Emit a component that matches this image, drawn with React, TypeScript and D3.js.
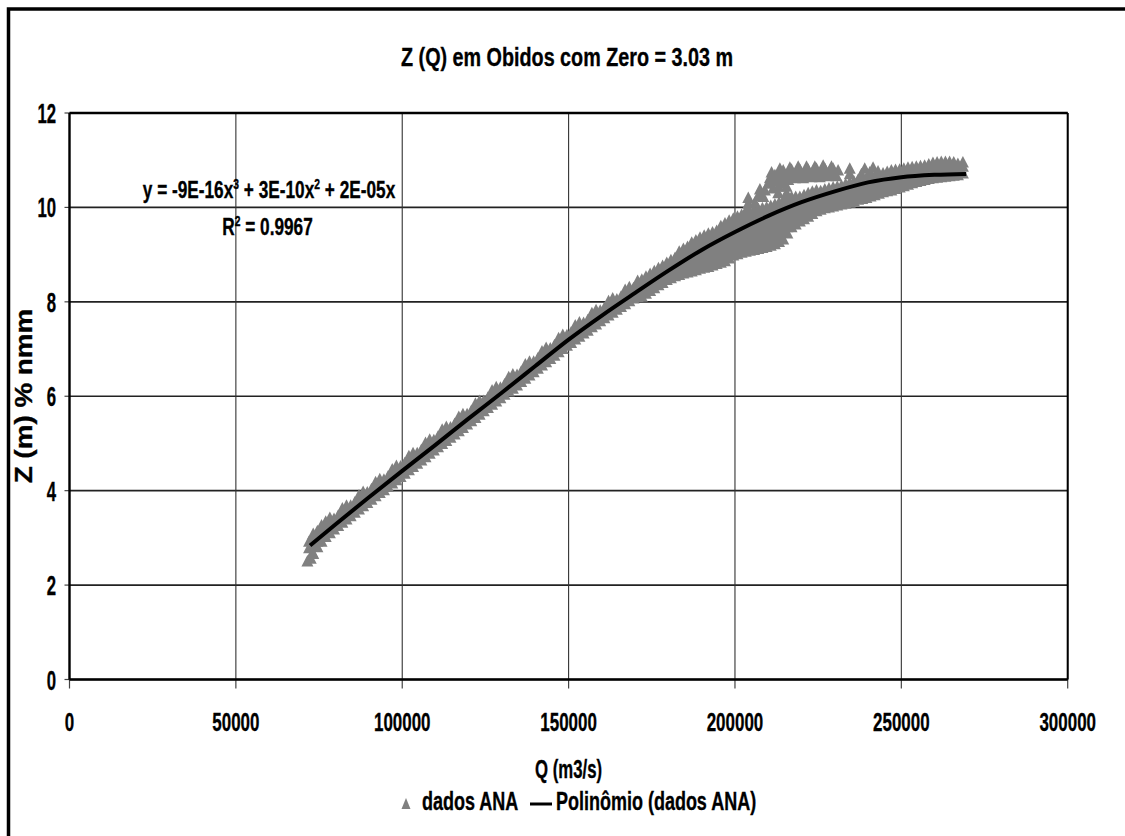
import React from "react";
import * as d3 from "d3";

const W = 1125;
const H = 836;

const chartTitle = "Z (Q) em Obidos com Zero = 3.03 m";
const xTitle = "Q (m3/s)";
const yTitle = "Z (m) % nmm";
const xTicks = [0, 50000, 100000, 150000, 200000, 250000, 300000];
const yTicks = [0, 2, 4, 6, 8, 10, 12];
const seriesName = "dados ANA";
const trendName = "Polinômio (dados ANA)";
const rSquared = "0.9967";

// trend line
const trendQ = [72300, 80000, 90000, 100000, 110000, 120000, 130000, 140000, 150000, 160000, 170000, 180000, 190000, 200000, 210000, 220000, 230000, 240000, 250000, 260000, 269500];
const trendZ = [2.84, 3.29, 3.86, 4.42, 4.97, 5.53, 6.08, 6.64, 7.2, 7.71, 8.19, 8.66, 9.1, 9.48, 9.82, 10.11, 10.34, 10.53, 10.64, 10.69, 10.71];

const dadosANA: [number, number][] = [
  [71500, 2.5], [72500, 2.56], [73000, 2.68], [72000, 2.78], [72000, 2.92],
  [73250, 2.66], [73250, 2.84], [73250, 2.98], [73250, 3.08],
  [74500, 2.8], [74500, 2.92], [74500, 3.04], [74500, 3.14],
  [75750, 2.92], [75750, 3.06], [75750, 3.18], [75750, 3.26],
  [77000, 3.02], [77000, 3.16], [77000, 3.27], [77000, 3.34],
  [78250, 3.1], [78250, 3.22], [78250, 3.34], [78250, 3.42],
  [79500, 3.18], [79500, 3.3], [79500, 3.4],
  [80750, 3.25], [80750, 3.37], [80750, 3.47],
  [82000, 3.32], [82000, 3.44], [82000, 3.54], [82000, 3.62],
  [83250, 3.39], [83250, 3.51], [83250, 3.61], [83250, 3.68],
  [84500, 3.46], [84500, 3.58], [84500, 3.68],
  [85750, 3.53], [85750, 3.65], [85750, 3.75],
  [87000, 3.6], [87000, 3.72], [87000, 3.82], [87000, 3.9],
  [88250, 3.67], [88250, 3.79], [88250, 3.89], [88250, 3.97],
  [89500, 3.74], [89500, 3.86], [89500, 3.96],
  [90750, 3.81], [90750, 3.93], [90750, 4.03],
  [92000, 3.88], [92000, 4.0], [92000, 4.1], [92000, 4.18],
  [93250, 3.95], [93250, 4.07], [93250, 4.17], [93250, 4.24],
  [94500, 4.01], [94500, 4.13], [94500, 4.23],
  [95750, 4.08], [95750, 4.2], [95750, 4.3],
  [97000, 4.15], [97000, 4.27], [97000, 4.37], [97000, 4.45],
  [98250, 4.22], [98250, 4.34], [98250, 4.44], [98250, 4.52],
  [99500, 4.29], [99500, 4.41], [99500, 4.51],
  [100750, 4.36], [100750, 4.48], [100750, 4.58],
  [102000, 4.43], [102000, 4.55], [102000, 4.65], [102000, 4.73],
  [103250, 4.5], [103250, 4.62], [103250, 4.72], [103250, 4.79],
  [104500, 4.57], [104500, 4.69], [104500, 4.79],
  [105750, 4.64], [105750, 4.76], [105750, 4.86],
  [107000, 4.71], [107000, 4.83], [107000, 4.93], [107000, 5.01],
  [108250, 4.78], [108250, 4.9], [108250, 5.0], [108250, 5.08],
  [109500, 4.85], [109500, 4.97], [109500, 5.07],
  [110750, 4.92], [110750, 5.04], [110750, 5.14],
  [112000, 4.99], [112000, 5.11], [112000, 5.21], [112000, 5.29],
  [113250, 5.05], [113250, 5.17], [113250, 5.27], [113250, 5.35],
  [114500, 5.12], [114500, 5.24], [114500, 5.34],
  [115750, 5.19], [115750, 5.31], [115750, 5.41],
  [117000, 5.26], [117000, 5.38], [117000, 5.48], [117000, 5.56],
  [118250, 5.33], [118250, 5.45], [118250, 5.55], [118250, 5.62],
  [119500, 5.4], [119500, 5.52], [119500, 5.62],
  [120750, 5.47], [120750, 5.59], [120750, 5.69],
  [122000, 5.54], [122000, 5.66], [122000, 5.76], [122000, 5.84],
  [123250, 5.61], [123250, 5.73], [123250, 5.83], [123250, 5.9],
  [124500, 5.68], [124500, 5.8], [124500, 5.9],
  [125750, 5.75], [125750, 5.87], [125750, 5.97],
  [127000, 5.82], [127000, 5.94], [127000, 6.04], [127000, 6.12],
  [128250, 5.89], [128250, 6.01], [128250, 6.11], [128250, 6.19],
  [129500, 5.96], [129500, 6.08], [129500, 6.18],
  [130750, 6.03], [130750, 6.15], [130750, 6.25],
  [132000, 6.1], [132000, 6.22], [132000, 6.32], [132000, 6.4],
  [133250, 6.16], [133250, 6.28], [133250, 6.38], [133250, 6.46],
  [134500, 6.23], [134500, 6.35], [134500, 6.45],
  [135750, 6.3], [135750, 6.42], [135750, 6.52],
  [137000, 6.37], [137000, 6.49], [137000, 6.59], [137000, 6.67],
  [138250, 6.44], [138250, 6.56], [138250, 6.66], [138250, 6.73],
  [139500, 6.51], [139500, 6.63], [139500, 6.73],
  [140750, 6.58], [140750, 6.7], [140750, 6.8],
  [142000, 6.65], [142000, 6.77], [142000, 6.87], [142000, 6.95],
  [143250, 6.72], [143250, 6.84], [143250, 6.94], [143250, 7.02],
  [144500, 6.79], [144500, 6.91], [144500, 7.01],
  [145750, 6.86], [145750, 6.98], [145750, 7.08],
  [147000, 6.93], [147000, 7.05], [147000, 7.15], [147000, 7.23],
  [148250, 7.0], [148250, 7.12], [148250, 7.22], [148250, 7.3],
  [149500, 7.07], [149500, 7.19], [149500, 7.29],
  [150750, 7.13], [150750, 7.25], [150750, 7.35],
  [152000, 7.2], [152000, 7.32], [152000, 7.42], [152000, 7.5],
  [153250, 7.26], [153250, 7.38], [153250, 7.48], [153250, 7.56],
  [154500, 7.33], [154500, 7.45], [154500, 7.55],
  [155750, 7.39], [155750, 7.51], [155750, 7.61],
  [157000, 7.46], [157000, 7.58], [157000, 7.68], [157000, 7.76],
  [158250, 7.52], [158250, 7.64], [158250, 7.74], [158250, 7.82],
  [159500, 7.59], [159500, 7.71], [159500, 7.81],
  [160750, 7.65], [160750, 7.77], [160750, 7.87],
  [162000, 7.71], [162000, 7.83], [162000, 7.93], [162000, 8.01],
  [163250, 7.77], [163250, 7.89], [163250, 7.99], [163250, 8.07],
  [164500, 7.83], [164500, 7.95], [164500, 8.05],
  [165750, 7.89], [165750, 8.01], [165750, 8.11],
  [167000, 7.95], [167000, 8.07], [167000, 8.17], [167000, 8.25],
  [168250, 8.01], [168250, 8.13], [168250, 8.23], [168250, 8.31],
  [169500, 8.07], [169500, 8.19], [169500, 8.29],
  [170750, 8.1], [170750, 8.22], [170750, 8.34], [170750, 8.44],
  [172000, 8.11], [172000, 8.23], [172000, 8.35], [172000, 8.47],
  [173250, 8.17], [173250, 8.29], [173250, 8.41], [173250, 8.53],
  [174500, 8.23], [174500, 8.35], [174500, 8.47], [174500, 8.59],
  [175750, 8.29], [175750, 8.41], [175750, 8.53], [175750, 8.65],
  [177000, 8.35], [177000, 8.47], [177000, 8.59], [177000, 8.71],
  [178250, 8.4], [178250, 8.52], [178250, 8.64], [178250, 8.76],
  [179500, 8.46], [179500, 8.58], [179500, 8.7], [179500, 8.82],
  [180750, 8.5], [180750, 8.62], [180750, 8.75], [180750, 8.88],
  [182000, 8.54], [182000, 8.67], [182000, 8.8], [182000, 8.93],
  [183250, 8.57], [183250, 8.7], [183250, 8.84], [183250, 8.97], [183250, 9.06],
  [184500, 8.6], [184500, 8.74], [184500, 8.88], [184500, 9.02], [184500, 9.12],
  [185750, 8.62], [185750, 8.76], [185750, 8.9], [185750, 9.04], [185750, 9.16],
  [187000, 8.64], [187000, 8.78], [187000, 8.92], [187000, 9.06], [187000, 9.2], [187000, 9.25],
  [188250, 8.67], [188250, 8.81], [188250, 8.95], [188250, 9.09], [188250, 9.23], [188250, 9.3],
  [189500, 8.7], [189500, 8.84], [189500, 8.98], [189500, 9.12], [189500, 9.26], [189500, 9.36],
  [190750, 8.72], [190750, 8.86], [190750, 9.0], [190750, 9.14], [190750, 9.28], [190750, 9.4],
  [192000, 8.74], [192000, 8.88], [192000, 9.02], [192000, 9.16], [192000, 9.3], [192000, 9.44],
  [193250, 8.77], [193250, 8.91], [193250, 9.05], [193250, 9.19], [193250, 9.33], [193250, 9.47],
  [194500, 8.8], [194500, 8.94], [194500, 9.08], [194500, 9.22], [194500, 9.36], [194500, 9.5],
  [195750, 8.83], [195750, 8.97], [195750, 9.11], [195750, 9.25], [195750, 9.39], [195750, 9.53], [195750, 9.6],
  [197000, 8.86], [197000, 9.0], [197000, 9.14], [197000, 9.28], [197000, 9.42], [197000, 9.56], [197000, 9.66],
  [198250, 8.92], [198250, 9.06], [198250, 9.2], [198250, 9.34], [198250, 9.48], [198250, 9.62], [198250, 9.72],
  [199500, 8.98], [199500, 9.12], [199500, 9.26], [199500, 9.4], [199500, 9.54], [199500, 9.68], [199500, 9.76],
  [200750, 9.01], [200750, 9.15], [200750, 9.29], [200750, 9.43], [200750, 9.57], [200750, 9.71], [200750, 9.8],
  [202000, 9.04], [202000, 9.18], [202000, 9.32], [202000, 9.46], [202000, 9.6], [202000, 9.74], [202000, 9.84],
  [203250, 9.06], [203250, 9.2], [203250, 9.34], [203250, 9.48], [203250, 9.62], [203250, 9.76], [203250, 9.88],
  [203500, 9.95], [204000, 10.08], [204000, 10.2],
  [204500, 9.08], [204500, 9.22], [204500, 9.36], [204500, 9.5], [204500, 9.64], [204500, 9.78], [204500, 9.9],
  [205750, 9.1], [205750, 9.24], [205750, 9.38], [205750, 9.52], [205750, 9.66], [205750, 9.8], [205750, 9.94],
  [207000, 9.12], [207000, 9.26], [207000, 9.4], [207000, 9.54], [207000, 9.68], [207000, 9.82], [207000, 9.96],
  [208250, 9.14], [208250, 9.28], [208250, 9.42], [208250, 9.56], [208250, 9.7], [208250, 9.84], [208250, 9.98],
  [209500, 9.16], [209500, 9.3], [209500, 9.44], [209500, 9.58], [209500, 9.72], [209500, 9.86], [209500, 10.0],
  [210750, 9.19], [210750, 9.33], [210750, 9.47], [210750, 9.61], [210750, 9.75], [210750, 9.89], [210750, 10.03],
  [212000, 9.22], [212000, 9.36], [212000, 9.5], [212000, 9.64], [212000, 9.78], [212000, 9.92], [212000, 10.06],
  [213250, 9.27], [213250, 9.41], [213250, 9.55], [213250, 9.69], [213250, 9.83], [213250, 9.97], [213250, 10.1],
  [214500, 9.32], [214500, 9.46], [214500, 9.6], [214500, 9.74], [214500, 9.88], [214500, 10.02], [214500, 10.14],
  [215750, 9.45], [215750, 9.58], [215750, 9.72], [215750, 9.86], [215750, 10.0], [215750, 10.14], [215750, 10.2],
  [217000, 9.58], [217000, 9.7], [217000, 9.84], [217000, 9.98], [217000, 10.12], [217000, 10.22],
  [218250, 9.64], [218250, 9.76], [218250, 9.9], [218250, 10.04], [218250, 10.16], [218250, 10.22],
  [219500, 9.7], [219500, 9.82], [219500, 9.96], [219500, 10.1], [219500, 10.22],
  [220750, 9.75], [220750, 9.87], [220750, 10.01], [220750, 10.15], [220750, 10.26],
  [222000, 9.8], [222000, 9.92], [222000, 10.06], [222000, 10.2], [222000, 10.3],
  [223250, 9.86], [223250, 9.98], [223250, 10.12], [223250, 10.25], [223250, 10.33],
  [224500, 9.92], [224500, 10.04], [224500, 10.18], [224500, 10.3], [224500, 10.36],
  [225750, 9.95], [225750, 10.08], [225750, 10.22], [225750, 10.34],
  [227000, 9.98], [227000, 10.12], [227000, 10.26], [227000, 10.38],
  [228250, 10.0], [228250, 10.14], [228250, 10.28], [228250, 10.4],
  [229500, 10.02], [229500, 10.16], [229500, 10.3], [229500, 10.42],
  [230750, 10.04], [230750, 10.18], [230750, 10.32], [230750, 10.44],
  [232000, 10.06], [232000, 10.2], [232000, 10.34], [232000, 10.46],
  [233250, 10.08], [233250, 10.22], [233250, 10.36], [233250, 10.49],
  [234500, 10.1], [234500, 10.24], [234500, 10.38], [234500, 10.52],
  [235750, 10.13], [235750, 10.27], [235750, 10.41], [235750, 10.55],
  [237000, 10.16], [237000, 10.3], [237000, 10.44], [237000, 10.58],
  [238250, 10.18], [238250, 10.32], [238250, 10.46], [238250, 10.6],
  [239500, 10.2], [239500, 10.34], [239500, 10.48], [239500, 10.62],
  [240750, 10.23], [240750, 10.37], [240750, 10.51], [240750, 10.64],
  [242000, 10.26], [242000, 10.4], [242000, 10.54], [242000, 10.66],
  [243250, 10.29], [243250, 10.43], [243250, 10.57], [243250, 10.69],
  [244500, 10.32], [244500, 10.46], [244500, 10.6], [244500, 10.72],
  [245750, 10.34], [245750, 10.48], [245750, 10.62], [245750, 10.75],
  [247000, 10.36], [247000, 10.5], [247000, 10.64], [247000, 10.78],
  [248250, 10.39], [248250, 10.53], [248250, 10.67], [248250, 10.79],
  [249500, 10.42], [249500, 10.56], [249500, 10.7], [249500, 10.8],
  [250750, 10.45], [250750, 10.59], [250750, 10.73], [250750, 10.82],
  [252000, 10.48], [252000, 10.62], [252000, 10.76], [252000, 10.84],
  [253250, 10.51], [253250, 10.64], [253250, 10.77], [253250, 10.85],
  [254500, 10.54], [254500, 10.66], [254500, 10.78], [254500, 10.86],
  [255750, 10.56], [255750, 10.68], [255750, 10.8], [255750, 10.87],
  [257000, 10.58], [257000, 10.7], [257000, 10.82], [257000, 10.88],
  [258250, 10.6], [258250, 10.72], [258250, 10.84], [258250, 10.91],
  [259500, 10.62], [259500, 10.74], [259500, 10.86], [259500, 10.94],
  [260750, 10.63], [260750, 10.75], [260750, 10.87], [260750, 10.95],
  [262000, 10.64], [262000, 10.76], [262000, 10.88], [262000, 10.96],
  [263250, 10.65], [263250, 10.77], [263250, 10.89], [263250, 10.96],
  [264500, 10.66], [264500, 10.78], [264500, 10.9], [264500, 10.96],
  [265750, 10.67], [265750, 10.79], [265750, 10.91], [265750, 10.95],
  [267000, 10.68], [267000, 10.8], [267000, 10.92],
  [268500, 10.72], [268500, 10.86], [268500, 10.95],
  // upper loop
  [206000, 10.1], [207000, 10.24], [207500, 10.38],
  [208500, 10.22], [209000, 10.36], [210000, 10.5], [210500, 10.62], [211000, 10.74],
  [211500, 10.4], [212000, 10.56], [212000, 10.68],
  [213000, 10.3], [213000, 10.44], [213000, 10.58], [213500, 10.72], [213500, 10.82],
  [214500, 10.5], [214500, 10.64], [214500, 10.78],
  [215500, 10.3], [215500, 10.44], [216000, 10.58], [216000, 10.72], [216500, 10.84],
  [217000, 10.66], [217000, 10.8],
  [218000, 10.62], [218500, 10.74], [219000, 10.86],
  [219500, 10.68], [219500, 10.8],
  [220500, 10.62], [221000, 10.74], [221500, 10.86],
  [222000, 10.68], [222000, 10.8],
  [223000, 10.64], [223500, 10.76], [224000, 10.86],
  [224500, 10.7], [224500, 10.82],
  [225500, 10.64], [226000, 10.76], [226500, 10.88],
  [227000, 10.7], [227000, 10.82],
  [228000, 10.66], [228500, 10.78], [229000, 10.86],
  [229500, 10.72], [229500, 10.82],
  [230500, 10.66], [231000, 10.78],
  [234500, 10.7], [234500, 10.82],
  [238000, 10.7], [239000, 10.82], [240500, 10.74], [241500, 10.84], [243000, 10.76],
];

const FONT = "'Liberation Sans', Arial, Helvetica, sans-serif";

function T(props: {
  x: number; y: number; size: number; sx?: number; rotate?: number;
  anchor?: "start" | "middle" | "end"; children: React.ReactNode;
}) {
  const { x, y, size, sx = 1, rotate = 0, anchor = "start", children } = props;
  return (
    <text
      transform={`translate(${x},${y}) rotate(${rotate}) scale(${sx},1)`}
      fontFamily={FONT}
      fontWeight="bold"
      fontSize={size}
      textAnchor={anchor}
      fill="#000"
      stroke="#000"
      strokeWidth={0.35}
    >
      {children}
    </text>
  );
}

export default function App() {
  const left = 69.5, right = 1067.7, top = 113, bottom = 679.5;
  const x = d3.scaleLinear().domain([0, 300000]).range([left, right]);
  const y = d3.scaleLinear().domain([0, 12]).range([bottom, top]);
  const trend = trendQ.map((q, i) => [q, trendZ[i]] as [number, number]);
  const linePath = d3
    .line<[number, number]>()
    .x((d) => x(d[0]))
    .y((d) => y(d[1]))
    .curve(d3.curveMonotoneX)(trend) as string;
  const tri = "M0,-6.5 L6,5 L-6,5 Z";
  const cx = (left + right) / 2;

  return (
    <svg
      width={W}
      height={H}
      style={{ position: "absolute", left: 0, top: 0, display: "block", background: "#fff" }}
    >
      <rect x={0} y={0} width={W} height={H} fill="#fff" />
      <rect x={8.5} y={9} width={1140} height={850} fill="none" stroke="#000" strokeWidth={3.5} />

      <T x={567} y={66} size={26} sx={0.76} anchor="middle">{chartTitle}</T>

      {/* grid */}
      {yTicks.map((t) => (
        <line key={"gy" + t} x1={left} x2={right} y1={y(t)} y2={y(t)} stroke="#222" strokeWidth={1.6} />
      ))}
      {xTicks.map((t) => (
        <line key={"gx" + t} x1={x(t)} x2={x(t)} y1={top} y2={bottom} stroke="#333" strokeWidth={1.1} />
      ))}
      {/* ticks */}
      {yTicks.map((t) => (
        <line key={"ty" + t} x1={left - 5} x2={left} y1={y(t)} y2={y(t)} stroke="#444" strokeWidth={1.2} />
      ))}
      {xTicks.map((t) => (
        <line key={"tx" + t} x1={x(t)} x2={x(t)} y1={bottom} y2={bottom + 9} stroke="#444" strokeWidth={1.2} />
      ))}

      {/* scatter */}
      <g fill="#808080">
        {dadosANA.map((d, i) => (
          <path key={i} d={tri} transform={`translate(${x(d[0])},${y(d[1])})`} />
        ))}
      </g>
      {/* trend */}
      <path d={linePath} fill="none" stroke="#000" strokeWidth={4} strokeLinejoin="round" />

      {/* plot border */}
      <line x1={left} x2={right} y1={top} y2={top} stroke="#000" strokeWidth={2.5} />
      <line x1={right} x2={right} y1={top} y2={bottom} stroke="#000" strokeWidth={2} />
      <line x1={left} x2={left} y1={top} y2={bottom} stroke="#000" strokeWidth={2.4} />
      <line x1={left} x2={right} y1={bottom} y2={bottom} stroke="#000" strokeWidth={2.6} />

      {/* tick labels */}
      {yTicks.map((t) => (
        <T key={"ly" + t} x={56} y={y(t) + 10} size={27} sx={0.62} anchor="end">{String(t)}</T>
      ))}
      {xTicks.map((t) => (
        <T key={"lx" + t} x={x(t)} y={731} size={26.5} sx={0.64} anchor="middle">{String(t)}</T>
      ))}

      {/* axis titles */}
      <T x={cx} y={778} size={25} sx={0.67} anchor="middle">{xTitle}</T>
      <g transform="translate(32,396) rotate(-90)">
        <T x={0} y={0} size={24} sx={1.16} anchor="middle">{yTitle}</T>
      </g>

      {/* equation */}
      <T x={269} y={198} size={23.3} sx={0.74} anchor="middle">
        y = -9E-16x<tspan dy={-9} fontSize={14}>3</tspan>
        <tspan dy={9}> + 3E-10x</tspan>
        <tspan dy={-9} fontSize={14}>2</tspan>
        <tspan dy={9}> + 2E-05x</tspan>
      </T>
      <T x={267.5} y={235} size={23.3} sx={0.74} anchor="middle">
        R<tspan dy={-9} fontSize={14}>2</tspan>
        <tspan dy={9}> = {rSquared}</tspan>
      </T>

      {/* legend */}
      <path d="M0,-6 L4.5,5 L-4.5,5 Z" fill="#808080" transform="translate(406,804)" />
      <T x={422} y={810} size={25} sx={0.72}>{seriesName}</T>
      <line x1={530} x2={552} y1={804} y2={804} stroke="#000" strokeWidth={3} />
      <T x={556} y={810} size={25} sx={0.72}>{trendName}</T>
    </svg>
  );
}
